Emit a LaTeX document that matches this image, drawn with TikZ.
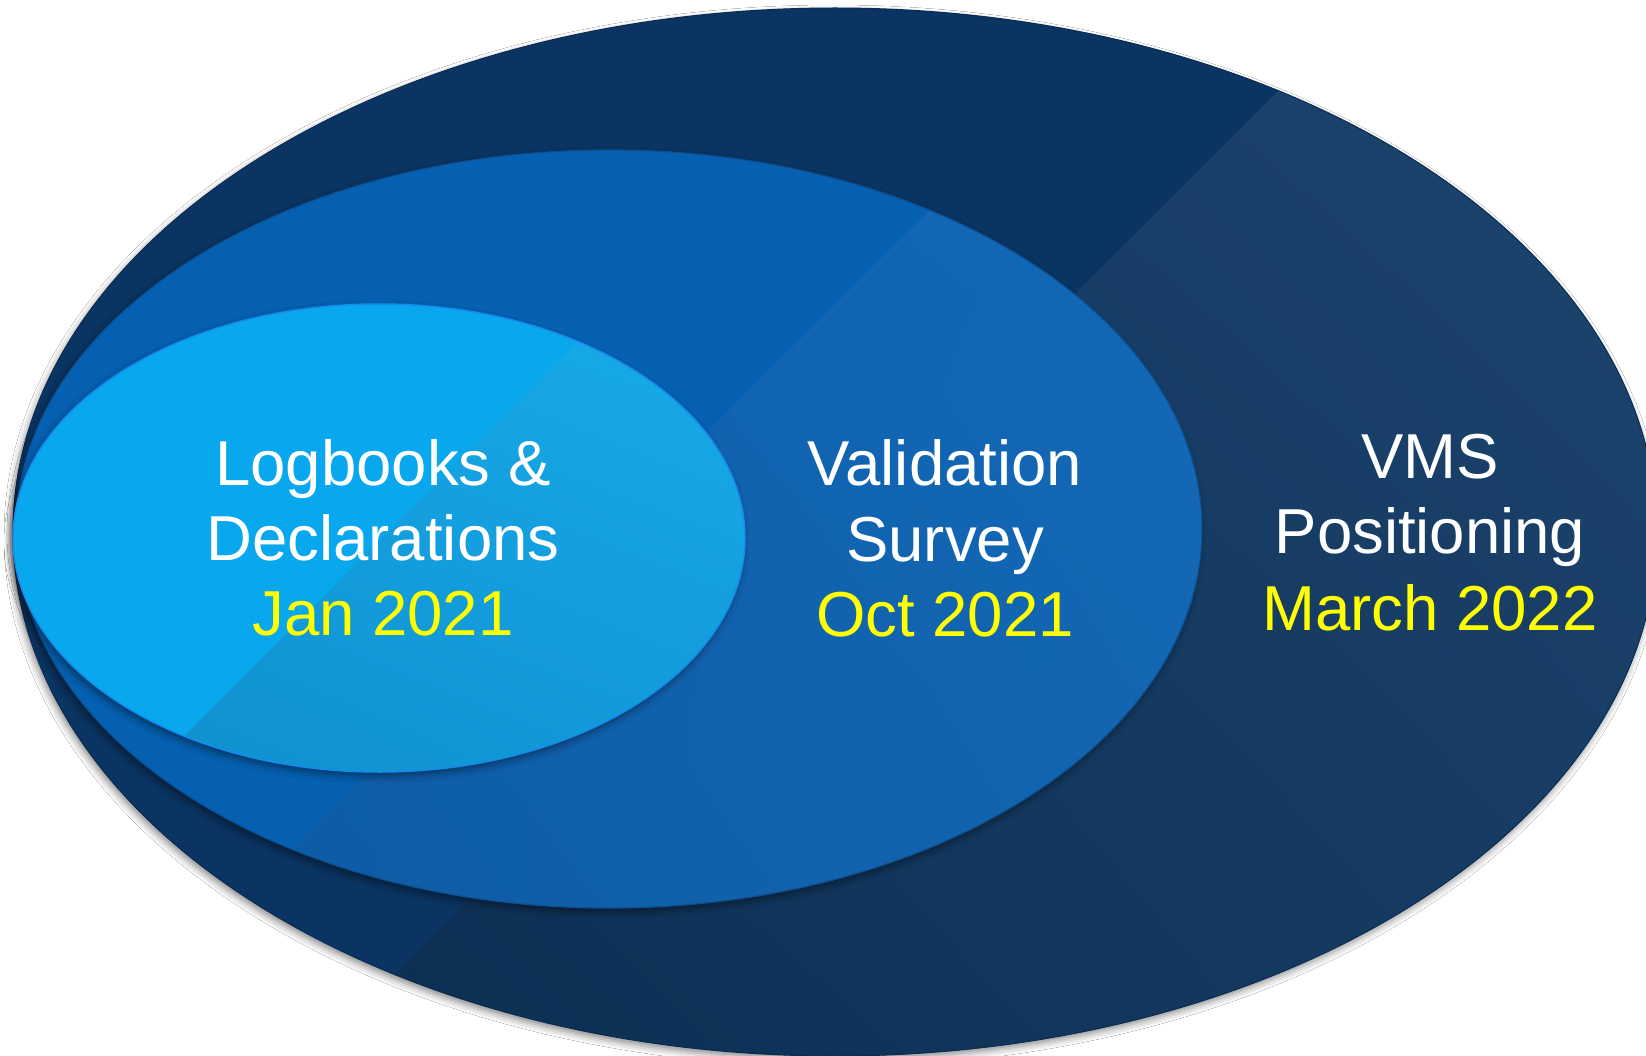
\documentclass[tikz,border=0pt]{standalone}
\usepackage{fontspec}
\setmainfont{Liberation Sans}
\usetikzlibrary{shadows.blur,shadings}

\definecolor{outerA}{HTML}{0A3462}
\definecolor{outerUR}{HTML}{1D4570}
\definecolor{outerLL}{HTML}{082A4E}
\definecolor{outerUL}{HTML}{13385F}
\definecolor{outerLR}{HTML}{173C63}
\definecolor{outerEdge}{HTML}{0A2C52}
\definecolor{midA}{HTML}{0560B1}
\definecolor{midUR}{HTML}{1269B8}
\definecolor{midLL}{HTML}{0C58A2}
\definecolor{midUL}{HTML}{0E60AE}
\definecolor{midLR}{HTML}{1465B0}
\definecolor{midEdge}{HTML}{0C4F8E}
\definecolor{innA}{HTML}{09A8EE}
\definecolor{innUR}{HTML}{18ABEA}
\definecolor{innLL}{HTML}{0F8ECC}
\definecolor{innUL}{HTML}{14A2E2}
\definecolor{innLR}{HTML}{129ADA}
\definecolor{innEdge}{HTML}{158CEB}
\definecolor{dateyellow}{HTML}{FFFF00}

\tikzset{
  lbl/.style={text=white, font=\fontsize{63.5}{75}\selectfont, anchor=base, inner sep=0pt},
  datelbl/.style={lbl, text=dateyellow},
  eshadow/.style={blur shadow={shadow xshift=-2pt, shadow yshift=-4pt, shadow blur radius=7pt, shadow opacity=45}},
}

\begin{document}
\begin{tikzpicture}[x=1pt,y=-1pt]
\useasboundingbox (0,0) rectangle (1646,1056);
\fill[white] (0,0) rectangle (1646,1056);
\clip (0,0) rectangle (1646,1056);

% ---------- outer ellipse ----------
\fill[outerA, eshadow] (835,532) ellipse [x radius=822pt, y radius=524pt];
\begin{scope}
  \clip (835,532) ellipse [x radius=822pt, y radius=524pt];
  \clip (1469,-100) -- (1800,-100) -- (1800,1600) -- (-231,1600) -- cycle;
  \shade[upper left=outerUL, upper right=outerUR, lower left=outerLL, lower right=outerLR]
    (13,8) rectangle (1657,1056);
\end{scope}
\draw[outerEdge, line width=1pt] (835,532) ellipse [x radius=822pt, y radius=524pt];

% ---------- middle ellipse ----------
\fill[midA, eshadow] (609,529) ellipse [x radius=593pt, y radius=379pt];
\begin{scope}
  \clip (609,529) ellipse [x radius=593pt, y radius=379pt];
  \clip (1239,-100) -- (1800,-100) -- (1800,1600) -- (-461,1600) -- cycle;
  \shade[upper left=midUL, upper right=midUR, lower left=midLL, lower right=midLR]
    (16,150) rectangle (1202,908);
\end{scope}
\draw[midEdge, line width=1.2pt] (609,529) ellipse [x radius=593pt, y radius=379pt];

% ---------- inner ellipse ----------
\fill[innA, eshadow] (379,538) ellipse [x radius=366pt, y radius=234pt];
\begin{scope}
  \clip (379,538) ellipse [x radius=366pt, y radius=234pt];
  \clip (1020,-100) -- (1800,-100) -- (1800,1600) -- (-680,1600) -- cycle;
  \shade[upper left=innUL, upper right=innUR, lower left=innLL, lower right=innLR]
    (13,304) rectangle (745,772);
\end{scope}
\draw[innEdge, line width=1.5pt] (379,538) ellipse [x radius=366pt, y radius=234pt];

% ---------- labels ----------
\node[lbl] (logA) at (383,485) {Logbooks \&};
\node[lbl] (logB) at (383,560) {Declarations};
\node[datelbl] (logC) at (383,635) {Jan 2021};

\node[lbl] (valA) at (945,485) {Validation};
\node[lbl] (valB) at (945,561) {Survey};
\node[datelbl] (valC) at (945,636) {Oct 2021};

\node[lbl] (vmsA) at (1430,478) {VMS};
\node[lbl] (vmsB) at (1430,553) {Positioning};
\node[datelbl] (vmsC) at (1430,630) {March 2022};
\end{tikzpicture}
\end{document}
